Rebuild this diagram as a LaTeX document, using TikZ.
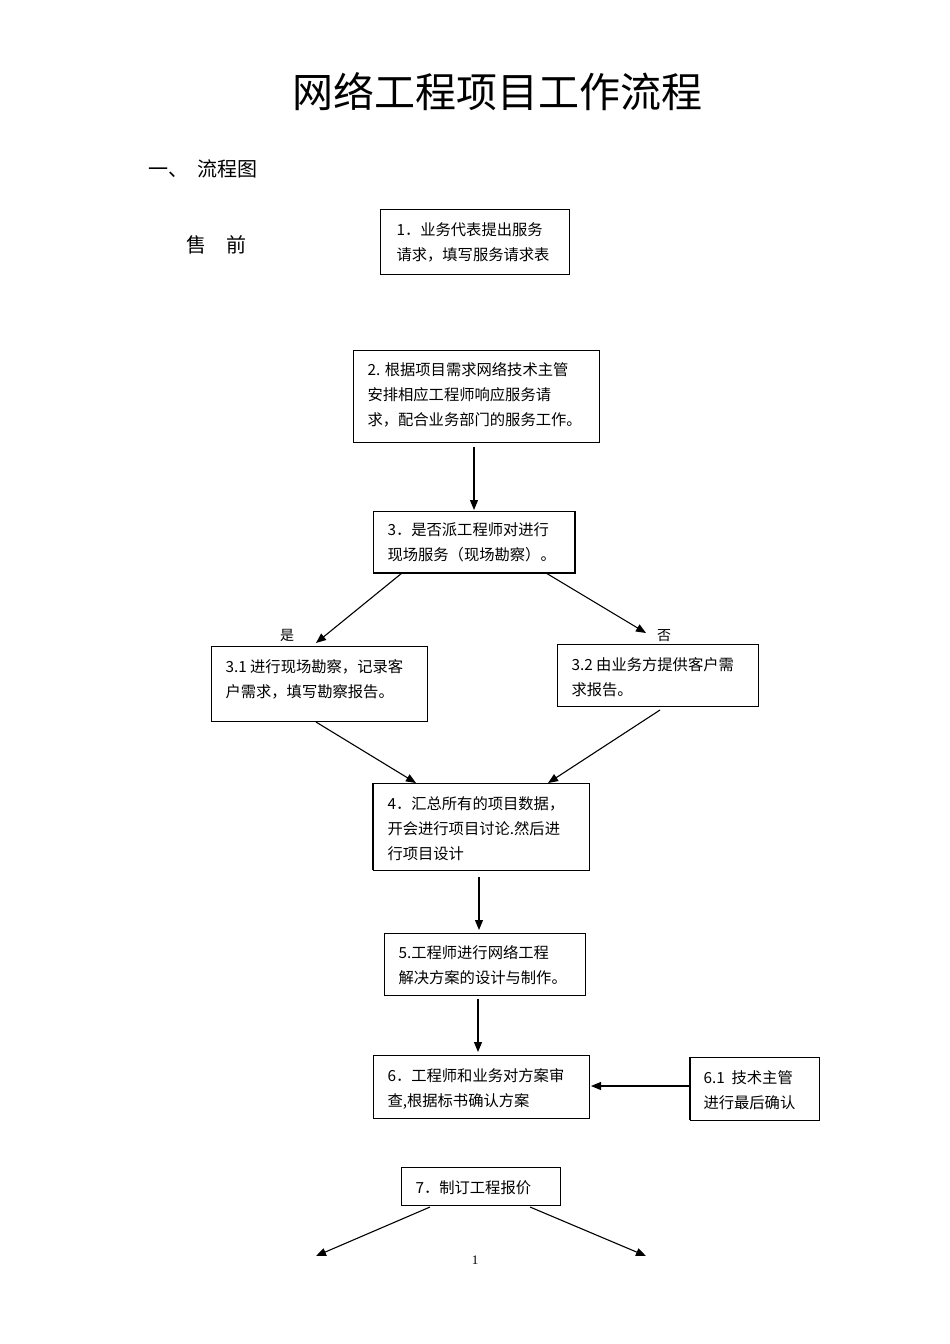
\documentclass[tikz,border=0pt]{standalone}
\usepackage{fontspec}
\setmainfont{Liberation Serif}
\newfontfamily\cjk{Noto Sans CJK SC}
\usetikzlibrary{arrows.meta}
\begin{document}
\begin{tikzpicture}[x=1pt,y=-1pt,
 txt/.style={anchor=north west,align=left,font=\cjk\fontsize{15.3}{25}\selectfont},
 arr/.style={-{Triangle[length=10pt,width=8pt]},line width=1.1pt}]
\useasboundingbox (0,0) rectangle (950,1344);
\fill[white] (0,0) rectangle (950,1344);
\node[font=\cjk\fontsize{41}{44}\selectfont] (title) at (497,92) {网络工程项目工作流程};
\node[font=\cjk\fontsize{20}{24}\selectfont,anchor=west] (h1) at (145,169) {一、\ \ 流程图};
\node[font=\cjk\fontsize{20}{24}\selectfont,anchor=west] (sq) at (183,245) {售\quad 前};
% boxes
\draw[line width=0.8pt] (380,209) rectangle (569,274);
\node[txt] (t1) at (393,219) {1．业务代表提出服务\\请求，填写服务请求表};
\draw[line width=0.8pt] (353,350) rectangle (599,442);
\node[txt] (t2) at (364,359) {2. 根据项目需求网络技术主管\\安排相应工程师响应服务请\\求，配合业务部门的服务工作。};
\draw[line width=0.8pt] (373,511) rectangle (575,572);
\draw[line width=1.6pt] (575,511) -- (575,573) -- (373,573);
\node[txt] (t3) at (384,519) {3．是否派工程师对进行\\现场服务（现场勘察）。};
\draw[line width=0.8pt] (211,646) rectangle (427,721);
\node[txt] (t31) at (222,656) {3.1 进行现场勘察，记录客\\户需求，填写勘察报告。};
\draw[line width=0.8pt] (557,644) rectangle (758,706);
\node[txt] (t32) at (568,654) {3.2 由业务方提供客户需\\求报告。};
\draw[line width=0.8pt] (373,783) rectangle (589,870);
\draw[line width=1.6pt] (373,783) -- (373,870);
\node[txt] (t4) at (384,793) {4．汇总所有的项目数据，\\开会进行项目讨论.然后进\\行项目设计};
\draw[line width=0.8pt] (384,933) rectangle (585,995);
\node[txt] (t5) at (395,942) {5.工程师进行网络工程\\解决方案的设计与制作。};
\draw[line width=0.8pt] (373,1055) rectangle (589,1118);
\node[txt] (t6) at (384,1065) {6．工程师和业务对方案审\\查,根据标书确认方案};
\draw[line width=0.8pt] (690,1057) rectangle (819,1120);
\draw[line width=1.6pt] (690,1057) -- (690,1120);
\node[txt] (t61) at (700,1067) {6.1\ \ 技术主管\\进行最后确认};
\draw[line width=0.8pt] (401,1167) rectangle (560,1205);
\node[txt] (t7) at (412,1177) {7．制订工程报价};
% coordinates for connectors
\coordinate (a1) at (474,447); \coordinate (a2) at (474,510);
\coordinate (c1) at (402,573); \coordinate (c2) at (316,643);
\coordinate (d1) at (546,573); \coordinate (d2) at (646,633);
\coordinate (e1) at (316,722); \coordinate (e2) at (416,783);
\coordinate (f1) at (660,710); \coordinate (f2) at (548,783);
\coordinate (g1) at (479,877); \coordinate (g2) at (479,930);
\coordinate (h1c) at (478,999); \coordinate (h2) at (478,1052);
\coordinate (i1) at (689,1086); \coordinate (i2) at (591,1086);
\coordinate (j1) at (430,1207); \coordinate (j2) at (316,1256);
\coordinate (k1) at (530,1207); \coordinate (k2) at (646,1256);
\foreach \p/\q in {a1/a2,c1/c2,d1/d2,e1/e2,f1/f2,g1/g2,h1c/h2,i1/i2,j1/j2,k1/k2}
  \draw[arr] (\p) -- (\q);
\node[font=\cjk\fontsize{14}{16}\selectfont] (yes) at (287,635) {是};
\node[font=\cjk\fontsize{14}{16}\selectfont] (no) at (664,636) {否};
\node[font=\fontsize{13}{15}\selectfont] (pg) at (475,1260) {1};
\end{tikzpicture}
\end{document}
